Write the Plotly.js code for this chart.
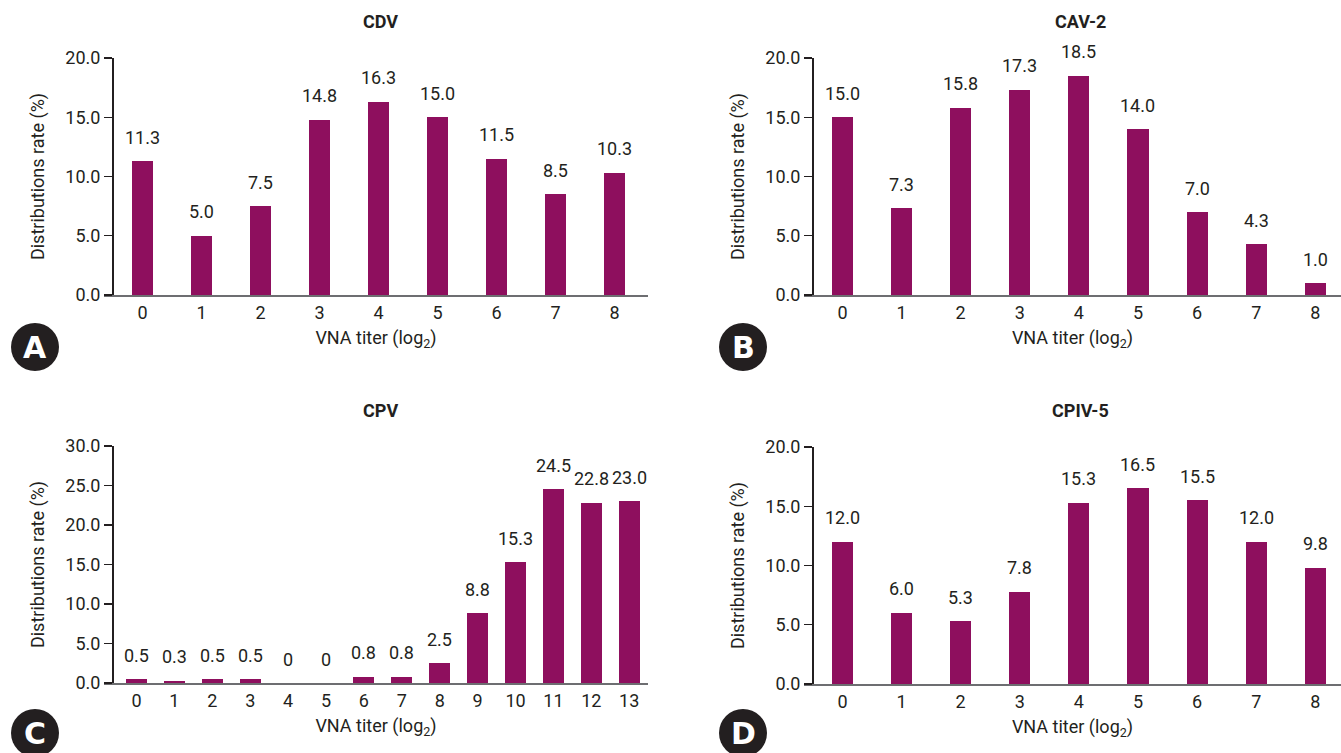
<!DOCTYPE html>
<html>
<head>
<meta charset="utf-8">
<script src="https://cdn.plot.ly/plotly-3.0.1.min.js"></script>
<style>
html,body{margin:0;padding:0;background:#fff;}
#chart{width:1341px;height:753px;}
</style>
</head>
<body>
<div id="chart"></div>
<script>
// ---- data ----
const titerA = [0,1,2,3,4,5,6,7,8];
const cdv    = [11.3,5.0,7.5,14.8,16.3,15.0,11.5,8.5,10.3];
const cav2   = [15.0,7.3,15.8,17.3,18.5,14.0,7.0,4.3,1.0];
const titerC = [0,1,2,3,4,5,6,7,8,9,10,11,12,13];
const cpv    = [0.5,0.3,0.5,0.5,0,0,0.8,0.8,2.5,8.8,15.3,24.5,22.8,23.0];
const cpiv5  = [12.0,6.0,5.3,7.8,15.3,16.5,15.5,12.0,9.8];
const panelTitles = ["CDV","CAV-2","CPV","CPIV-5"];
const panelLetters = ["A","B","C","D"];
const yTitle = "Distributions rate (%)";
const xTitle = "VNA titer (log<sub>2</sub>)";

// ---- layout helpers ----
const W = 1341, H = 753;
const px = v => v / W;
const py = v => 1 - v / H;
const BAR = "#8e0f5e";
const TXT = "#231f20";
const FONT = "Roboto, 'Liberation Sans', sans-serif";

const panels = [
  {x: titerA, y: cdv,   xs:'x',  ys:'y',  xd:[104,648],  xr:[-0.653,8.568], yd:[295,58],  yr:[0,20], ypos:112, w:0.356},
  {x: titerA, y: cav2,  xs:'x2', ys:'y2', xd:[804,1341], xr:[-0.651,8.435], yd:[295,58],  yr:[0,20], ypos:812, w:0.356},
  {x: titerC, y: cpv,   xs:'x3', ys:'y3', xd:[104,648],  xr:[-0.858,13.496],yd:[683,446], yr:[0,30], ypos:112, w:0.554},
  {x: titerA, y: cpiv5, xs:'x4', ys:'y4', xd:[804,1341], xr:[-0.651,8.435], yd:[684,447], yr:[0,20], ypos:812, w:0.356}
];

const fmt = v => v === 0 ? "0" : v.toFixed(1);

const traces = [];
const annotations = [];
const shapes = [];
const layout = {
  width: W, height: H,
  margin: {l:0, r:0, t:0, b:0},
  paper_bgcolor: "#fff", plot_bgcolor: "#fff",
  showlegend: false,
  font: {family: FONT, color: TXT, size: 18},
  bargap: 0
};

panels.forEach((p, i) => {
  traces.push({
    type: 'bar', x: p.x, y: p.y, xaxis: p.xs, yaxis: p.ys,
    width: p.w, marker: {color: BAR}, hoverinfo: 'none'
  });
  const xk = 'xaxis' + (i ? i + 1 : '');
  const yk = 'yaxis' + (i ? i + 1 : '');
  layout[xk] = {
    domain: [px(p.xd[0]), px(p.xd[1])], range: p.xr, anchor: p.ys,
    tickvals: p.x, ticktext: p.x.map(String), ticks: '',
    showgrid: false, zeroline: false, showline: true,
    linecolor: '#6d6e71', linewidth: 2,
    tickfont: {size: 18, color: TXT, family: FONT},
    title: {text: xTitle, font: {size: 18, color: TXT, family: FONT}, standoff: 10},
    automargin: false, fixedrange: true
  };
  layout[yk] = {
    domain: [py(p.yd[0]), py(p.yd[1])], range: p.yr, anchor: 'free',
    position: px(p.ypos), dtick: 5, tickformat: '.1f',
    ticks: 'outside', ticklen: 8, tickcolor: TXT, tickwidth: 1.2,
    showgrid: false, zeroline: false, showline: true,
    linecolor: TXT, linewidth: 1.5,
    tickfont: {size: 18, color: TXT, family: FONT},
    title: {text: yTitle, font: {size: 18, color: TXT, family: FONT}, standoff: 14},
    automargin: false, fixedrange: true
  };
  // data labels
  p.x.forEach((xv, j) => {
    annotations.push({
      xref: p.xs, yref: p.ys, x: xv, y: p.y[j], text: fmt(p.y[j]),
      showarrow: false, yanchor: 'middle', yshift: 24,
      font: {size: 18, color: TXT, family: FONT}
    });
  });
  // panel title
  const cx = (i % 2 === 0) ? 380 : 1080;
  const ty = (i < 2) ? 22 : 411;
  annotations.push({
    xref: 'paper', yref: 'paper', x: px(cx), y: py(ty), text: '<b>' + panelTitles[i] + '</b>',
    showarrow: false, xanchor: 'center', yanchor: 'middle',
    font: {size: 18, color: TXT, family: FONT}
  });
  // badge
  const bx = (i % 2 === 0) ? 35 : 743;
  const by = (i < 2) ? 347 : 733;
  const r = 24;
  shapes.push({
    type: 'circle', xref: 'paper', yref: 'paper',
    x0: px(bx - r), x1: px(bx + r), y0: py(by + r), y1: py(by - r),
    fillcolor: TXT, line: {width: 0}
  });
  annotations.push({
    xref: 'paper', yref: 'paper', x: px(bx), y: py(by), text: '<b>' + panelLetters[i] + '</b>',
    showarrow: false, xanchor: 'center', yanchor: 'middle',
    font: {size: 30, color: '#ffffff', family: "'DejaVu Sans', sans-serif"}
  });
});

layout.annotations = annotations;
layout.shapes = shapes;

Plotly.newPlot('chart', traces, layout, {displayModeBar: false, staticPlot: true});
</script>
</body>
</html>
